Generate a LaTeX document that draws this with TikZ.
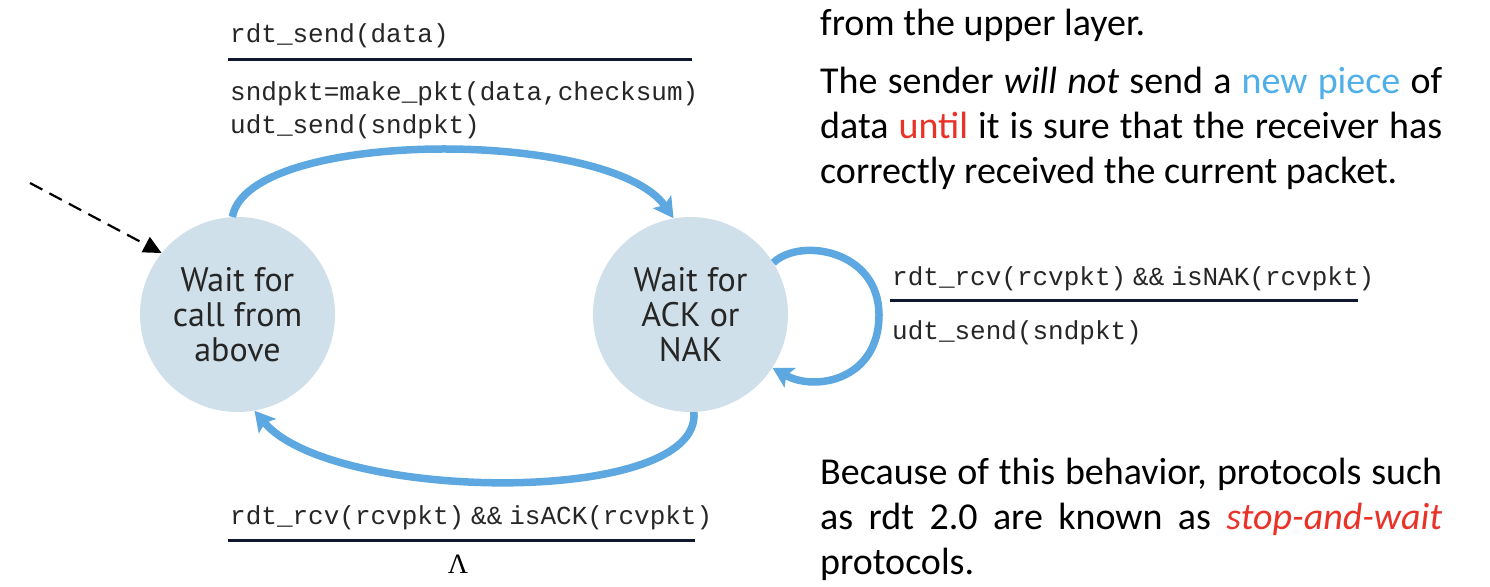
\documentclass[tikz,border=0pt]{standalone}
\usepackage{fontspec}
\usepackage{xcolor}
\usepackage{tikz}
\usetikzlibrary{arrows.meta,positioning}
\setmainfont{Carlito}
\newfontfamily\codefont{Liberation Mono}
\newfontfamily\statefont{PT Sans}
\newfontfamily\greekfont{Liberation Serif}
\definecolor{sblue}{RGB}{207,224,234}
\definecolor{ablue}{RGB}{93,168,224}
\definecolor{tblue}{RGB}{79,175,233}
\definecolor{tred}{RGB}{233,50,40}
\definecolor{rulec}{RGB}{16,24,48}
\hyphenpenalty=10000
\exhyphenpenalty=10000

\begin{document}
\begin{tikzpicture}[x=1pt, y=1pt,
    state/.style={circle, fill=sblue, minimum size=195pt, inner sep=0pt, align=center,
                  font=\statefont\fontsize{34}{35}\selectfont, text=black!85},
    trans/.style={-{Stealth[length=20pt,width=22pt,inset=4pt]}, line width=7.5pt, color=ablue},
    code/.style={anchor=base west, inner sep=0pt, font=\codefont\fontsize{26}{30}\selectfont, text=black!85},
    bar/.style={line width=3pt, color=rulec},
    para/.style={anchor=base west, inner sep=0pt, text width=622pt, align=justify,
                 font=\fontsize{38}{45}\selectfont}
]
\fill[white] (0,0) rectangle (1490,-586);
\useasboundingbox (0,0) rectangle (1490,-586);

\node[state] (idle) at (237.5,-314.5) {Wait for\\call from\\above};
\node[state] (wack) at (690.5,-314.5) {Wait for\\ACK or\\NAK};

\coordinate (init) at (30,-183);
\draw[dash pattern=on 14pt off 8pt, line width=2.2pt, -{Triangle[length=18pt,width=17pt]}] (init) -- (idle.141);

\draw[trans] (idle.93) .. controls +(80:90) and +(125:110) .. (wack.100);
\draw[trans] (wack.-88) .. controls +(-85:95) and +(-50:120) .. (idle.-80);
\draw[trans] (wack.32) .. controls (800,-237) and (879,-250) .. (879,-315)
                       .. controls (879,-380) and (815,-392) .. (wack.-33);

\node[code] (send) at (230,-43) {rdt\_send(data)};
\draw[bar] (228,-60) -- (692,-60);
\node[code] (mkpkt) at (230,-100) {sndpkt=make\_pkt(data,checksum)};
\node[code] (udt) at (230,-133) {udt\_send(sndpkt)};

\node[code] (nak) at (892,-285) {rdt\_rcv(rcvpkt)\hspace{7pt}\&\&\hspace{7pt}isNAK(rcvpkt)};
\draw[bar] (890,-300) -- (1358,-300);
\node[code] (resend) at (892,-339) {udt\_send(sndpkt)};

\node[code] (ack) at (230,-524) {rdt\_rcv(rcvpkt)\hspace{7pt}\&\&\hspace{7pt}isACK(rcvpkt)};
\draw[bar] (228,-540) -- (695,-540);
\node[anchor=base, inner sep=0pt, font=\greekfont\fontsize{28}{30}\selectfont] (lam) at (458,-573) {Λ};

\node[para] (upper) at (820,-36) {from the upper layer.};
\node[para] (nonew) at (820,-93) {The sender \textit{will not} send a \textcolor{tblue}{new piece} of\linebreak
  data \textcolor{tred}{until} it is sure that the receiver has\linebreak
  correctly received the current packet.};
\node[para] (stopwait) at (820,-484) {Because of this behavior, protocols such\linebreak
  as rdt 2.0 are known as \textcolor{tred}{\textit{stop-and-wait}}\linebreak
  protocols.};
\end{tikzpicture}
\end{document}
